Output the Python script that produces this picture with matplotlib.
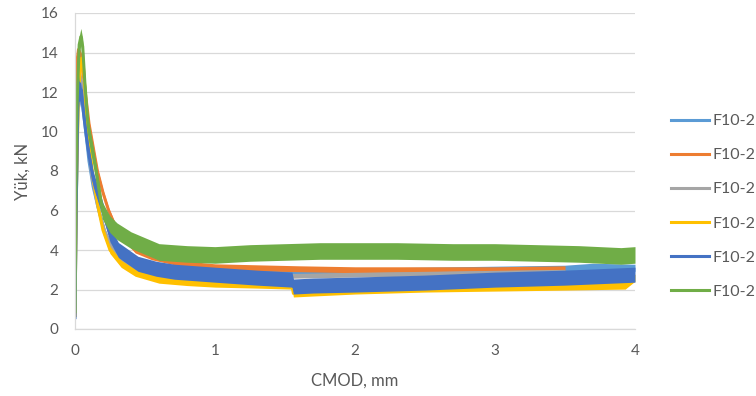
import matplotlib
matplotlib.use("Agg")
import matplotlib.pyplot as plt
import numpy as np

# CMOD (mm) and load (kN) readings for each specimen
lblue_x = [0.0, 0.008, 0.02, 0.03, 0.045, 0.06, 0.08, 0.1, 0.13, 0.17, 0.22, 0.3, 0.4, 0.5, 0.7, 1.0, 1.3, 1.6, 2.0, 2.5, 3.0, 3.5, 3.7, 4.0]
lblue_y = [0.6, 6.0, 11.0, 12.1, 11.8, 11.0, 9.8, 8.5, 7.2, 6.0, 4.7, 3.7, 3.3, 3.1, 2.95, 2.85, 2.85, 2.85, 2.9, 2.95, 3.0, 3.05, 3.15, 3.1]

orange_x = [0.0, 0.006, 0.015, 0.025, 0.04, 0.06, 0.08, 0.1, 0.13, 0.16, 0.2, 0.24, 0.3, 0.43, 0.55, 0.71, 0.85, 1.0, 1.3, 1.6, 2.0, 2.5, 3.0, 3.5]
orange_y = [0.7, 8.0, 13.6, 14.15, 13.9, 12.8, 11.6, 10.4, 9.2, 8.0, 6.9, 6.0, 5.0, 4.0, 3.65, 3.4, 3.25, 3.15, 3.1, 3.05, 3.0, 3.0, 3.0, 3.05]

gray_x = [0.0, 0.008, 0.02, 0.035, 0.05, 0.07, 0.09, 0.12, 0.16, 0.21, 0.28, 0.36, 0.45, 0.6, 0.8, 1.0, 1.3, 1.6, 2.0, 2.5, 3.0, 3.5]
gray_y = [0.6, 7.0, 12.0, 12.9, 12.4, 11.0, 9.5, 7.8, 6.3, 5.0, 3.9, 3.3, 3.0, 2.75, 2.65, 2.6, 2.65, 2.7, 2.75, 2.8, 2.85, 2.9]

yellow_x = [0.0, 0.01, 0.025, 0.045, 0.06, 0.08, 0.1, 0.13, 0.17, 0.2, 0.25, 0.33, 0.43, 0.6, 0.8, 1.0, 1.3, 1.55, 1.56, 1.7, 2.0, 2.5, 3.0, 3.5, 3.93, 4.0]
yellow_y = [0.6, 7.0, 12.0, 13.7, 13.3, 11.2, 9.5, 7.6, 6.0, 5.0, 4.0, 3.3, 2.85, 2.5, 2.38, 2.3, 2.25, 2.2, 1.8, 1.85, 1.95, 2.05, 2.1, 2.15, 2.2, 2.6]

blue_x = [0.0, 0.008, 0.02, 0.03, 0.036, 0.045, 0.06, 0.08, 0.1, 0.13, 0.2, 0.25, 0.31, 0.45, 0.58, 0.71, 1.0, 1.3, 1.55, 1.56, 1.7, 2.0, 2.5, 3.0, 3.5, 4.0]
blue_y = [0.5, 6.0, 11.2, 12.45, 11.6, 12.1, 11.0, 9.8, 8.8, 7.6, 6.0, 4.8, 4.0, 3.3, 3.05, 2.9, 2.75, 2.6, 2.5, 2.15, 2.2, 2.25, 2.35, 2.5, 2.6, 2.75]

green_x = [0.0, 0.005, 0.015, 0.03, 0.042, 0.055, 0.07, 0.09, 0.1, 0.15, 0.195, 0.25, 0.3, 0.4, 0.5, 0.6, 0.8, 1.0, 1.25, 1.5, 1.75, 2.0, 2.3, 2.7, 3.0, 3.3, 3.6, 3.9, 4.0]
green_y = [0.8, 6.0, 11.5, 14.4, 14.8, 14.3, 12.5, 10.6, 10.0, 8.0, 6.0, 5.3, 4.95, 4.5, 4.2, 3.9, 3.8, 3.75, 3.85, 3.9, 3.95, 3.95, 3.95, 3.9, 3.9, 3.85, 3.8, 3.7, 3.75]

series_names = ["F10-2", "F10-2", "F10-2", "F10-2", "F10-2", "F10-2"]

x_ticks = [0, 1, 2, 3, 4]
y_ticks = [0, 2, 4, 6, 8, 10, 12, 14, 16]

colors = ["#5B9BD5", "#ED7D31", "#A5A5A5", "#FFC000", "#4472C4", "#70AD47"]
# half-width of the scatter band of each record, kN
band = [0.18, 0.15, 0.12, 0.18, 0.38, 0.42]

series = [(lblue_x, lblue_y), (orange_x, orange_y), (gray_x, gray_y),
          (yellow_x, yellow_y), (blue_x, blue_y), (green_x, green_y)]

plt.rcParams["font.family"] = ["Lato", "DejaVu Sans"]

fig = plt.figure(figsize=(7.56, 3.96), dpi=100)
ax = fig.add_axes([75 / 756, 1 - 329 / 396, 560 / 756, 316 / 396])

for (xs, ys), c, hw, name in zip(series, colors, band, series_names):
    xs = np.asarray(xs)
    ys = np.asarray(ys)
    ax.fill_between(xs, ys - hw, ys + hw, color=c, lw=0, zorder=2)
    ax.plot(xs, ys, color=c, lw=2.2, solid_capstyle="butt", zorder=2, label=name)

ax.set_xlim(0, 4)
ax.set_ylim(0, 16)
ax.set_xticks(x_ticks)
ax.set_yticks(y_ticks)
ax.grid(axis="y", color="#D9D9D9", lw=0.9, zorder=0)
ax.set_axisbelow(True)
for s in ["top", "right"]:
    ax.spines[s].set_visible(False)
for s in ["left", "bottom"]:
    ax.spines[s].set_color("#D9D9D9")
    ax.spines[s].set_linewidth(0.9)
ax.tick_params(axis="both", length=0, labelsize=11, labelcolor="#595959")
ax.tick_params(axis="y", pad=12)
ax.tick_params(axis="x", pad=11)

ax.set_xlabel("CMOD, mm", fontsize=12, color="#595959", labelpad=10)
ax.set_ylabel("Yük, kN", fontsize=12, color="#595959", labelpad=7)

leg_handles = [plt.Line2D([], [], color=c, lw=2.2) for c in colors]
fig.legend(leg_handles, series_names, loc="upper left",
           bbox_to_anchor=(671 / 756, 1 - 114 / 396), frameon=False,
           fontsize=11.5, labelcolor="#595959", handlelength=2.4,
           handletextpad=0.2, labelspacing=1.25, borderaxespad=0,
           borderpad=0)

fig.savefig("out.png", dpi=100)
